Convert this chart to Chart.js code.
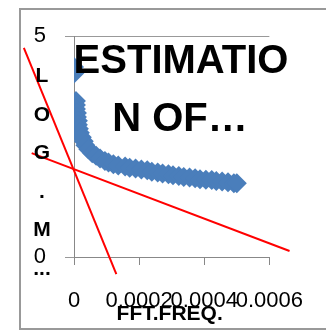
<!DOCTYPE html>
<html>
<head>
<meta charset="utf-8">
<script src="https://cdn.jsdelivr.net/npm/chart.js@4"></script>
<style>
  body { margin: 0; background: #fff; }
</style>
</head>
<body>
<canvas id="myChart" width="326" height="331"></canvas>
<script>
// fft frequency vs log magnitude
const freq = [0, 0.000001,
  0.000006, 0.000006, 0.000006, 0.000009, 0.000009, 0.000012, 0.000012, 0.000015, 0.000018, 0.000024,
  0.00003, 0.000035, 0.000044, 0.000056, 0.000068, 0.00008, 0.000095, 0.000106, 0.000121, 0.000136,
  0.000157, 0.000171, 0.000189, 0.000207, 0.000225, 0.000239, 0.000257, 0.000272,
  0.00029, 0.000304, 0.000322, 0.000337, 0.000355, 0.000372, 0.000387, 0.000405, 0.000423, 0.000437,
  0.000455, 0.000473, 0.000491, 0.0005];
const logMag = [4.3, 4.16,
  3.53, 3.44, 3.35, 3.26, 3.17, 3.08, 2.99, 2.9, 2.81, 2.71,
  2.62, 2.53, 2.44, 2.35, 2.29, 2.23, 2.17, 2.14, 2.1, 2.07,
  2.05, 2.02, 2.0, 1.98, 1.96, 1.93, 1.91, 1.89,
  1.87, 1.85, 1.83, 1.81, 1.8, 1.78, 1.76, 1.75, 1.74, 1.72,
  1.71, 1.69, 1.67, 1.67];

// the two red straight lines (end points)
const line1X = [-0.000154, 0.00013];
const line1Y = [4.73, -0.385];
const line2X = [-0.00013, 0.000662];
const line2Y = [2.35, 0.136];

const xTickLabels = ['0', '0.0002', '0.0004', '0.0006'];
const yTickLabels = ['0', '5'];
const titleLines = ['ESTIMATIO', 'N OF\u2026'];
const yTitleChars = ['L', 'O', 'G', '.', 'M', '...'];
const xTitle = 'FFT.FREQ.';

const pts = (xs, ys) => xs.map((x, i) => ({x: x, y: ys[i]}));

const extras = {
  id: 'extras',
  beforeDraw(chart) {
    const c = chart.ctx;
    c.save();
    c.strokeStyle = '#999';
    c.lineWidth = 2;
    c.strokeRect(20, 9, 400, 320);
    c.restore();
  },
  afterDraw(chart) {
    const c = chart.ctx;
    const a = chart.chartArea;
    c.save();
    c.fillStyle = '#000';
    c.textAlign = 'center';
    c.textBaseline = 'alphabetic';
    c.font = 'bold 40px "Liberation Sans"';
    c.fillText(titleLines[0], 181, 73);
    c.fillText(titleLines[1], 180, 131);
    c.font = 'bold 21px "Liberation Sans"';
    yTitleChars.forEach((ch, i) => {
      c.fillText(ch, 42, 82 + i * 38.6);
    });
    c.fillText(xTitle, (a.left + a.right) / 2 - 2, 320);
    c.restore();
  }
};

const ctx = document.getElementById('myChart');

new Chart(ctx, {
  type: 'scatter',
  data: {
    datasets: [{
      label: 'log mag',
      data: pts(freq, logMag),
      pointStyle: 'rectRot',
      pointRadius: 10,
      pointHoverRadius: 10,
      backgroundColor: '#4a7ebb',
      borderColor: '#4a7ebb',
      borderWidth: 0
    }, {
      label: 'line 1',
      data: pts(line1X, line1Y),
      showLine: true,
      pointRadius: 0,
      borderColor: '#ff0000',
      borderWidth: 2,
      clip: false
    }, {
      label: 'line 2',
      data: pts(line2X, line2Y),
      showLine: true,
      pointRadius: 0,
      borderColor: '#ff0000',
      borderWidth: 2,
      clip: false
    }]
  },
  options: {
    responsive: false,
    animation: false,
    layout: {
      padding: {left: 0, top: 36, right: 49, bottom: 0}
    },
    plugins: {
      legend: {display: false},
      tooltip: {enabled: false}
    },
    scales: {
      x: {
        type: 'linear',
        min: 0,
        max: 0.0006,
        afterFit(s) { s.height = 74; },
        border: {color: '#888', width: 1},
        grid: {drawOnChartArea: false, drawTicks: true, tickLength: 8, color: '#888'},
        ticks: {
          stepSize: 0.0002,
          autoSkip: false,
          maxRotation: 0,
          minRotation: 0,
          padding: 23,
          color: '#000',
          font: {family: 'Liberation Sans', size: 22},
          callback: (v, i) => xTickLabels[i]
        }
      },
      y: {
        min: 0,
        max: 5,
        afterFit(s) { s.width = 74; },
        border: {color: '#888', width: 1},
        grid: {color: '#999', tickLength: 9},
        ticks: {
          stepSize: 5,
          padding: 19,
          color: '#000',
          font: {family: 'Liberation Sans', size: 22},
          callback: (v, i) => yTickLabels[i]
        }
      }
    }
  },
  plugins: [extras]
});
</script>
</body>
</html>
